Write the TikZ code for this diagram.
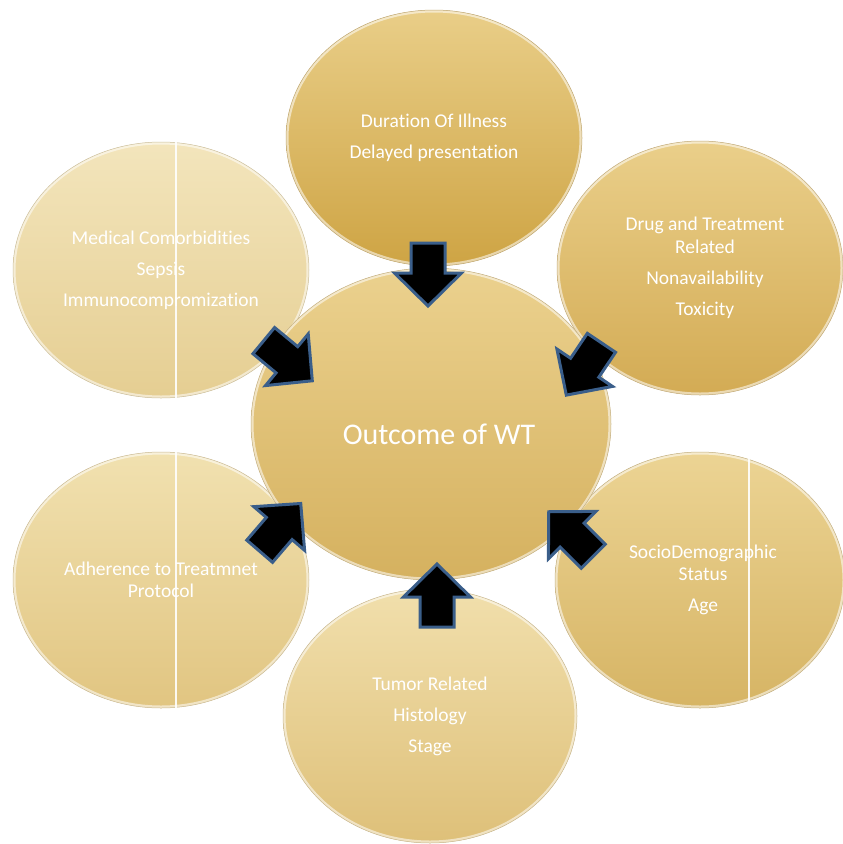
\documentclass[tikz,border=0pt]{standalone}
\usepackage{fontspec}
\setmainfont{Carlito}[Ligatures=NoCommon]
\usetikzlibrary{calc,shapes.geometric}

% gold tones: light top / darker bottom for each bubble
\definecolor{illT}{RGB}{233,206,136}\definecolor{illB}{RGB}{206,164,68}
\definecolor{drugT}{RGB}{234,207,138}\definecolor{drugB}{RGB}{211,171,84}
\definecolor{medT}{RGB}{243,229,188}\definecolor{medB}{RGB}{229,206,146}
\definecolor{adhT}{RGB}{241,225,176}\definecolor{adhB}{RGB}{225,197,129}
\definecolor{socT}{RGB}{236,212,148}\definecolor{socB}{RGB}{214,180,100}
\definecolor{tumT}{RGB}{241,223,172}\definecolor{tumB}{RGB}{222,192,121}
\definecolor{wtT}{RGB}{235,209,142}\definecolor{wtB}{RGB}{213,177,95}
\definecolor{arrowrim}{RGB}{58,94,138}

\begin{document}
\begin{tikzpicture}[x=1pt,y=-1pt,
  bubble/.style n args={4}{ellipse, minimum width=2*#1, minimum height=2*#2,
    inner sep=0pt, top color=#3, bottom color=#4, draw=#4!80!black!70,
    line width=0.5pt, text=white, align=center,
    font=\fontsize{19.5}{22.5}\selectfont,
    path picture={\draw[white,opacity=.55,line width=5pt]
      (path picture bounding box.center) ellipse [x radius=#1, y radius=#2];}},
  caption/.style={text=white, align=center, inner sep=0pt,
    font=\fontsize{19.5}{22.5}\selectfont},
  splitline/.style={draw=white, line width=1.3pt, opacity=.9},
  blockarrow/.style={fill=black, draw=arrowrim, line width=3pt, line join=miter},
  inarrow/.pic={\path[blockarrow] (1,-17) -- (31,-17) -- (31,-33.5) -- (64,0)
      -- (31,33.5) -- (31,17) -- (1,17) -- cycle;}
]
\useasboundingbox (0,0) rectangle (843,844);
\fill[white] (0,0) rectangle (843,844);

% surrounding factors
\node[bubble={148pt}{128pt}{illT}{illB}] (ill) at (434,138)
  {Duration Of Illness\\[8.5pt]Delayed presentation};
\node[bubble={143pt}{127pt}{drugT}{drugB}] (drug) at (700,268) {};
\node[caption] (druglabel) at ($(drug.center)+(5,0)$)
  {Drug and Treatment\\Related\\[8.5pt]Nonavailability\\[8.5pt]Toxicity};
\node[bubble={148pt}{128pt}{medT}{medB}] (med) at (161,270)
  {Medical Comorbidities\\[8.5pt]Sepsis\\[8.5pt]Immunocompromization};
\draw[splitline] ($(med.north)+(15,0)$) -- ($(med.south)+(15,3)$);
\node[bubble={148pt}{128pt}{adhT}{adhB}] (adh) at (161,580)
  {Adherence to Treatmnet\\Protocol};
\draw[splitline] ($(adh.north)+(15,0)$) -- ($(adh.south)+(15,0)$);
\node[bubble={145pt}{128pt}{socT}{socB}] (soc) at (700,580) {};
\node[caption] (soclabel) at ($(soc.center)+(3,0)$)
  {SocioDemographic\\Status\\[8.5pt]Age};
\draw[splitline] ($(soc.north)+(49,4)$) -- ($(soc.south)+(49,-6)$);
\node[bubble={147pt}{127pt}{tumT}{tumB}] (tum) at (430,716)
  {Tumor Related\\[8.5pt]Histology\\[8.5pt]Stage};

% central outcome
\node[bubble={180pt}{156pt}{wtT}{wtB}] (wt) at (431,424) {};
\node[text=white, font=\fontsize{30}{34}\selectfont, inner sep=0pt]
  (wtlabel) at ($(wt.center)+(8,10)$) {Outcome of WT};

% arrows pointing into the outcome
\coordinate (t1) at (428,242);
\coordinate (t2) at (263,340);
\coordinate (t3) at (602,342);
\coordinate (t4) at (259,552);
\coordinate (t5) at (594,557);
\coordinate (t6) at (437,628);
\pic[rotate=-90] at (t1) {inarrow};
\pic[rotate=-39.6] at (t2) {inarrow};
\pic[rotate=-123.9] at (t3) {inarrow};
\pic[rotate=49.3] at (t4) {inarrow};
\pic[rotate=135] at (t5) {inarrow};
\pic[rotate=90] at (t6) {inarrow};
\end{tikzpicture}
\end{document}
